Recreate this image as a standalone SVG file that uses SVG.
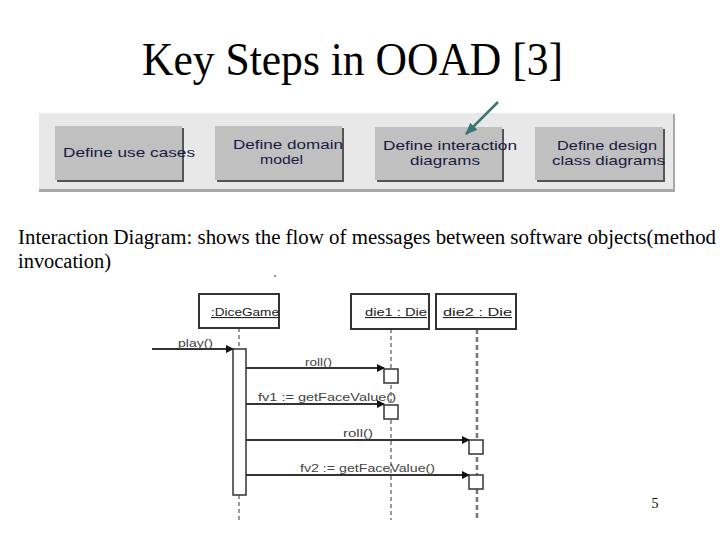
<svg xmlns="http://www.w3.org/2000/svg" width="720" height="540" viewBox="0 0 720 540">
<style>
.title{font-family:"Liberation Serif",serif;font-size:46px;fill:#000}
.para{font-family:"Liberation Serif",serif;font-size:20px;fill:#000}
.step{fill:#c0c0c0;stroke:none}
.stxt{font-family:"Liberation Sans",Arial,sans-serif;font-size:13px;fill:#1a1a40}
.obj{fill:#fff;stroke:#333;stroke-width:2}
.otxt{font-family:"Liberation Sans",Arial,sans-serif;font-size:11px;fill:#222;text-decoration:underline}
.mtxt{font-family:"Liberation Sans",Arial,sans-serif;font-size:11px;fill:#444}
.msg{stroke:#333;stroke-width:2;fill:none}
.life{stroke:#333;stroke-width:1;stroke-dasharray:4 3;fill:none}
.act{fill:#fff;stroke:#333;stroke-width:1.5}
</style>
<defs>
<marker id="ah" markerWidth="8" markerHeight="8" refX="7" refY="4" orient="auto" markerUnits="userSpaceOnUse">
<path d="M0,0 L8,4 L0,8 Z" fill="#111"/>
</marker>
<marker id="ahTeal" markerWidth="12" markerHeight="10" refX="11" refY="5" orient="auto" markerUnits="userSpaceOnUse">
<path d="M0,0 L12,5 L0,10 Z" fill="#3d7575"/>
</marker>
</defs>
<rect width="720" height="540" fill="#fff"/>
<text class="title" x="142" y="75" textLength="421" lengthAdjust="spacingAndGlyphs">Key Steps in OOAD [3]</text>

<g id="band">
<rect x="39" y="114" width="636" height="78" fill="#a8a8a8"/>
<rect x="39" y="113" width="634" height="76" fill="#e8e8e8"/>
</g>
<g id="step1">
<rect x="57" y="128" width="127" height="54" fill="#555"/>
<rect class="step" x="55" y="126" width="127" height="54"/>
<text class="stxt" x="63" y="157" textLength="132" lengthAdjust="spacingAndGlyphs">Define use cases</text>
</g>
<g id="step2">
<rect x="217" y="128" width="127" height="54" fill="#555"/>
<rect class="step" x="215" y="126" width="127" height="54"/>
<text class="stxt" x="233" y="149" textLength="110" lengthAdjust="spacingAndGlyphs">Define domain</text>
<text class="stxt" x="260" y="164" textLength="43" lengthAdjust="spacingAndGlyphs">model</text>
</g>
<g id="step3">
<rect x="377" y="129" width="127" height="53" fill="#555"/>
<rect class="step" x="375" y="127" width="127" height="53"/>
<text class="stxt" x="383" y="150" textLength="134" lengthAdjust="spacingAndGlyphs">Define interaction</text>
<text class="stxt" x="410" y="165" textLength="70" lengthAdjust="spacingAndGlyphs">diagrams</text>
</g>
<g id="step4">
<rect x="537" y="129" width="128" height="53" fill="#555"/>
<rect class="step" x="535" y="127" width="128" height="53"/>
<text class="stxt" x="557" y="150" textLength="100" lengthAdjust="spacingAndGlyphs">Define design</text>
<text class="stxt" x="552" y="165" textLength="113" lengthAdjust="spacingAndGlyphs">class diagrams</text>
</g>
<g id="pointer">
<line x1="498" y1="102" x2="466" y2="134" stroke="#3d7575" stroke-width="2.5" marker-end="url(#ahTeal)"/>
</g>

<text class="para" x="18" y="244" textLength="698" lengthAdjust="spacingAndGlyphs">Interaction Diagram: shows the flow of messages between software objects(method</text>
<text class="para" x="18" y="268" textLength="93" lengthAdjust="spacingAndGlyphs">invocation)</text>
<rect x="274" y="275" width="2" height="2" fill="#999"/>

<g id="connectors">
<line class="life" x1="239" y1="328" x2="239" y2="349"/>
<line class="life" x1="239" y1="495" x2="239" y2="520"/>
<line class="life" x1="391" y1="329" x2="391" y2="520"/>
<line x1="477" y1="329" x2="477" y2="520" stroke="#777" stroke-width="2.5" stroke-dasharray="5 3"/>
<line class="msg" x1="152" y1="349" x2="233" y2="349" stroke="#555" marker-end="url(#ah)"/>
<line class="msg" x1="246" y1="368" x2="384" y2="368" marker-end="url(#ah)"/>
<line class="msg" x1="246" y1="404" x2="384" y2="404" stroke="#555" marker-end="url(#ah)"/>
<line class="msg" x1="246" y1="440" x2="469" y2="440" stroke="#555" marker-end="url(#ah)"/>
<line class="msg" x1="246" y1="475" x2="469" y2="475" stroke="#666" marker-end="url(#ah)"/>
<text class="mtxt" x="178" y="347" textLength="35" lengthAdjust="spacingAndGlyphs">play()</text>
<text class="mtxt" x="305" y="366" textLength="27" lengthAdjust="spacingAndGlyphs">roll()</text>
<text class="mtxt" x="258" y="401" textLength="138" lengthAdjust="spacingAndGlyphs">fv1 := getFaceValue()</text>
<text class="mtxt" x="343" y="437" textLength="30" lengthAdjust="spacingAndGlyphs">roll()</text>
<text class="mtxt" x="300" y="472" textLength="135" lengthAdjust="spacingAndGlyphs">fv2 := getFaceValue()</text>
</g>

<g id="dicegame">
<rect class="obj" x="199" y="294" width="80" height="34"/>
<text class="otxt" x="211" y="316" textLength="68" lengthAdjust="spacingAndGlyphs">:DiceGame</text>
<rect class="act" x="233" y="349" width="13" height="146"/>
</g>
<g id="die1">
<rect class="obj" x="351" y="294" width="78" height="35"/>
<text class="otxt" x="365" y="316" textLength="62" lengthAdjust="spacingAndGlyphs">die1 : Die</text>
<rect class="act" x="384" y="369" width="14" height="14"/>
<rect class="act" x="384" y="405" width="14" height="14"/>
</g>
<g id="die2">
<rect class="obj" x="436" y="294" width="80" height="35"/>
<text class="otxt" x="443" y="316" textLength="69" lengthAdjust="spacingAndGlyphs">die2 : Die</text>
<rect class="act" x="469" y="440" width="14" height="14"/>
<rect class="act" x="469" y="475" width="14" height="14"/>
</g>

<text x="655" y="508" font-family="Liberation Serif,serif" font-size="14" text-anchor="middle">5</text>
</svg>
